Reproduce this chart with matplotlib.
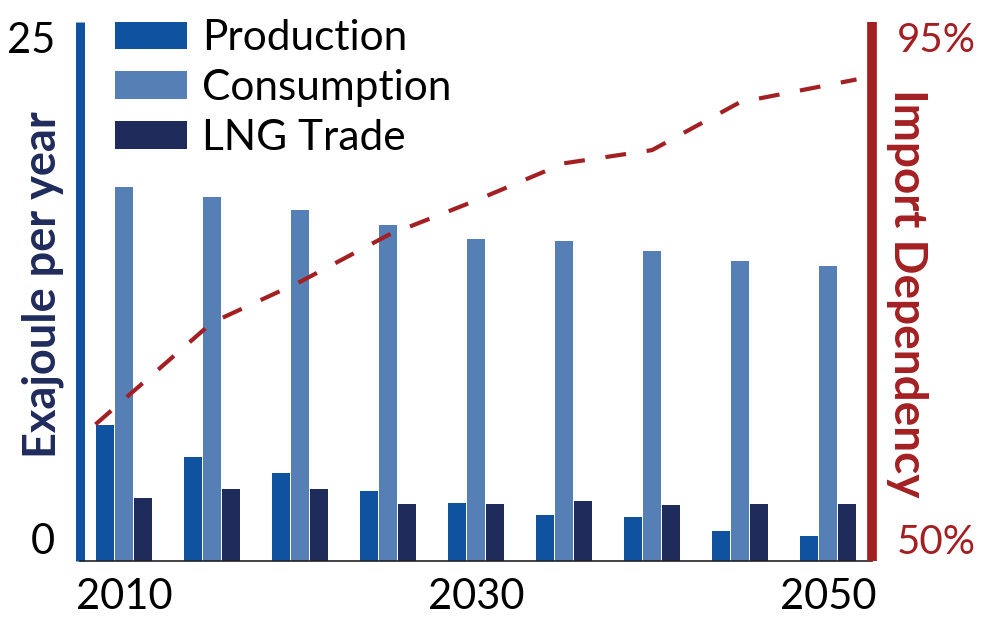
import numpy as np
import matplotlib
matplotlib.use('Agg')
import matplotlib.pyplot as plt
from matplotlib.ticker import FixedLocator

plt.rcParams['font.family'] = ['Lato', 'DejaVu Sans']

years = [2010, 2015, 2020, 2025, 2030, 2035, 2040, 2045, 2050]
production = [6.3, 4.8, 4.1, 3.25, 2.7, 2.15, 2.05, 1.4, 1.15]
consumption = [17.35, 16.9, 16.3, 15.6, 14.95, 14.85, 14.4, 13.9, 13.7]
lng_trade = [2.9, 3.35, 3.35, 2.65, 2.65, 2.8, 2.6, 2.65, 2.65]
import_dependency = [61.4, 69.9, 73.3, 77.2, 80.1, 83.2, 84.3, 88.3, 90.2]
shown_years = ['2010', '2030', '2050']

c_prod = '#0f52a0'
c_cons = '#567fb5'
c_lng = '#1f2b5b'
c_red = '#a31f22'

fig = plt.figure(figsize=(9.95, 6.17), dpi=100)
ax = fig.add_axes([0.0804, 0.0908, 0.7960, 0.8736])

x = np.arange(len(years))
w = 0.205
off = 0.216
ax.bar(x - off, production, w, color=c_prod, linewidth=0, label='Production')
ax.bar(x, consumption, w, color=c_cons, linewidth=0, label='Consumption')
ax.bar(x + off, lng_trade, w, color=c_lng, linewidth=0, label='LNG Trade')

ax.set_xlim(-0.5, len(years) - 0.5)
ax.set_ylim(0, 25)
ax.yaxis.set_major_locator(FixedLocator([0, 25]))
ax.set_xticks([years.index(int(y)) for y in shown_years])
ax.set_xticklabels(shown_years)
ax.tick_params(axis='both', length=0, labelsize=30)
ax.tick_params(axis='x', pad=12)
ax.tick_params(axis='y', pad=18)
ylabels = ax.get_yticklabels()
ylabels[0].set_va('bottom')
ylabels[1].set_va('top')

for s in ['top', 'right']:
    ax.spines[s].set_visible(False)
ax.spines['left'].set_color(c_prod)
ax.spines['left'].set_linewidth(6.5)
ax.spines['left'].set_capstyle('butt')
ax.spines['bottom'].set_color('#222222')
ax.spines['bottom'].set_linewidth(1.2)

# import dependency line, spanning the bar groups
ax2 = ax.twinx()
xl = x.astype(float)
xl[0] -= 1.5 * off
xl[-1] += 1.5 * off
ax2.plot(xl, import_dependency, color=c_red, lw=3, linestyle=(0, (5, 5)))
ax2.set_ylim(50, 95)
ax2.yaxis.set_major_locator(FixedLocator([50, 95]))
ax2.set_yticklabels(['50%', '95%'])
ax2.tick_params(axis='y', length=0, labelsize=29, labelcolor=c_red, pad=18)
rlabels = ax2.get_yticklabels()
rlabels[0].set_va('bottom')
rlabels[1].set_va('top')
for s in ['top', 'left', 'bottom']:
    ax2.spines[s].set_visible(False)
ax2.spines['right'].set_color(c_red)
ax2.spines['right'].set_linewidth(7)
ax2.spines['right'].set_capstyle('butt')

fig.text(0.043, 0.538, 'Exajoule per year', rotation=90, ha='center', va='center',
         fontsize=32.5, fontweight='bold', color=c_lng)
fig.text(0.912, 0.524, 'Import Dependency', rotation=270, ha='center', va='center',
         fontsize=33, fontweight='bold', color=c_red)

ax.legend(loc='upper left', bbox_to_anchor=(0.044, 1.005), frameon=False, fontsize=30.5,
          handlelength=1.7, handleheight=0.62, handletextpad=0.35, labelspacing=0.28,
          borderpad=0, borderaxespad=0)

fig.savefig('out.png', dpi=100)
